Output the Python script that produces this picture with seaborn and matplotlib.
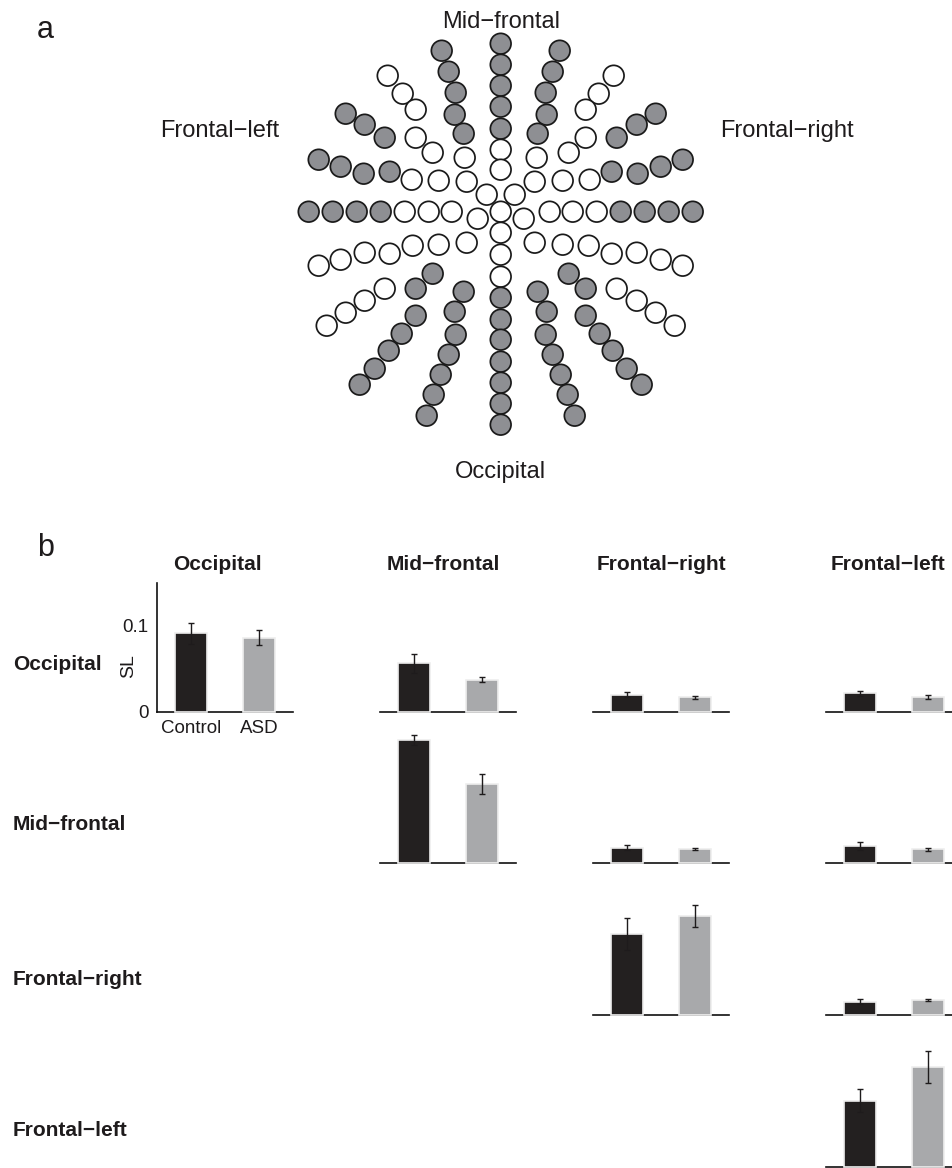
import matplotlib
matplotlib.use("Agg")
import matplotlib.pyplot as plt
import seaborn as sns
import numpy as np
import pandas as pd

regions = ["Occipital", "Mid\u2212frontal", "Frontal\u2212right", "Frontal\u2212left"]
groups = ["Control", "ASD"]

# upper triangle of region x region, read row by row
pair_row = [0, 0, 0, 0, 1, 1, 1, 2, 2, 3]
pair_col = [0, 1, 2, 3, 1, 2, 3, 2, 3, 3]
control_sl = [0.091, 0.0565, 0.020, 0.0212, 0.1434, 0.018, 0.0202, 0.0942, 0.0154, 0.0769]
control_err = [0.0127, 0.011, 0.0024, 0.0026, 0.0056, 0.003, 0.0046, 0.0185, 0.003, 0.0135]
asd_sl = [0.086, 0.0374, 0.0166, 0.0173, 0.0923, 0.0165, 0.0162, 0.1153, 0.0173, 0.1161]
asd_err = [0.009, 0.0033, 0.0015, 0.0025, 0.0112, 0.0015, 0.0019, 0.0125, 0.0013, 0.0183]

# 128-channel net, left half read off the layout (x right, y up, Cz at 0,0)
# 1 = sensor in one of the four regions (grey), 0 = not used
left_x = [-59, -52, -45, -46, -37, -155, -136, -116, -182, -160, -137, -111,
          -192, -168, -144, -120, -85, -68, -85, -99, -112, -126, -141,
          -37, -46, -45, -52, -60, -67, -74,
          -113, -98, -85, -85, -68, -36, -34, -89, -62, -96, -72, -49, -14, -23,
          -182, -160, -136, -111, -88, -62, -34, -174, -155, -136, -116]
left_y = [161, 140, 119, 97, 78, 98, 87, 74, 52, 45, 38, 40,
          0, 0, 0, 0, -77, -62, -104, -122, -139, -157, -173,
          -80, -100, -123, -143, -163, -183, -204,
          136, 118, 102, 74, 59, 54, 30, 32, 31, 0, 0, 0, 17, -7,
          -54, -48, -41, -42, -34, -33, -31, -114, -101, -89, -77]
left_used = [1] * 30 + [0] * 25
mid_y = [168, 147, 126, 105, 83, 62, 42, 0, -21, -43, -65,
         -86, -108, -128, -150, -171, -192, -213]
mid_used = [1] * 5 + [0] * 6 + [1] * 7

W, H = 953, 1168
fig = plt.figure(figsize=(W / 100, H / 100), dpi=100)
sns.set_style("white")
plt.rcParams["font.family"] = ["Liberation Sans", "DejaVu Sans"]
txt_color = "#1e1b1c"


def fx(px):
    return px / W


def fy(py):
    return 1 - py / H


# ---- panel a: sensor layout ----
cx, cy = 500.7, 211.7
ax_a = fig.add_axes([0, fy(480), 1, 480 / H])
sensors = pd.DataFrame({
    "x": left_x + [-v for v in left_x] + [0] * len(mid_y),
    "y": left_y + left_y + mid_y,
    "used": left_used + left_used + mid_used,
})
sns.scatterplot(data=sensors, x="x", y="y", hue="used",
                palette={1: "#8e8f93", 0: "white"}, s=222,
                edgecolor="#1a1a1a", linewidth=1.25, legend=False, ax=ax_a)
ax_a.set_xlim(-cx, W - cx)
ax_a.set_ylim(cy - 480, cy)
ax_a.set_aspect("equal")
ax_a.axis("off")

fig.text(fx(501), fy(28), regions[1], ha="center", va="baseline", fontsize=17, color=txt_color)
fig.text(fx(220), fy(137), regions[3], ha="center", va="baseline", fontsize=17, color=txt_color)
fig.text(fx(787), fy(137), regions[2], ha="center", va="baseline", fontsize=17, color=txt_color)
fig.text(fx(500), fy(478), regions[0], ha="center", va="baseline", fontsize=17, color=txt_color)
fig.text(fx(37), fy(37.5), "a", ha="left", va="baseline", fontsize=22, color=txt_color)
fig.text(fx(37), fy(556), "b", ha="left", va="baseline", fontsize=22, color=txt_color)

# ---- panel b: bar grid ----
col_left = [157, 380, 593, 826]
row_base = [711.7, 863.3, 1015, 1166.7]
ax_w, ax_h = 136, 129
bar_colors = {"Control": "#231f20", "ASD": "#a7a9ac"}

for k in range(len(pair_row)):
    r, c = pair_row[k], pair_col[k]
    ax = fig.add_axes([fx(col_left[c]), fy(row_base[r]), ax_w / W, ax_h / H])
    df = pd.DataFrame({"group": groups, "SL": [control_sl[k], asd_sl[k]]})
    sns.barplot(data=df, x="group", y="SL", hue="group", palette=bar_colors,
                width=0.47, edgecolor="#eeeeee", linewidth=1.2, errorbar=None,
                legend=False, ax=ax, zorder=3, clip_on=False)
    ax.errorbar([0, 1], [control_sl[k], asd_sl[k]], yerr=[control_err[k], asd_err[k]],
                fmt="none", ecolor=txt_color, elinewidth=1, capsize=2, capthick=1, zorder=4)
    ax.set_xlim(-0.5, 1.5)
    ax.set_ylim(0, 0.15)
    sns.despine(ax=ax, top=True, right=True, left=(k != 0))
    ax.spines["bottom"].set_color("#111111")
    ax.spines["bottom"].set_linewidth(1.2)
    ax.set_xlabel("")
    ax.set_ylabel("")
    if k == 0:
        ax.spines["left"].set_color("#111111")
        ax.spines["left"].set_linewidth(1.2)
        ax.set_yticks([0, 0.1])
        ax.set_yticklabels(["0", "0.1"])
        ax.tick_params(direction="in", length=4, width=1, labelsize=13.5,
                       colors="#111111", labelcolor=txt_color, pad=6)
        ax.set_xticks([0, 1])
        ax.set_xticklabels(groups)
        ax.text((129 - 157) / ax_w, (711.7 - 666) / ax_h, "SL", rotation=90,
                ha="center", va="center", fontsize=14, color=txt_color,
                transform=ax.transAxes)
    else:
        ax.set_xticks([])
        ax.set_yticks([])

title_x = [217.5, 443.7, 661.7, 888.3]
for c in range(4):
    fig.text(fx(title_x[c]), fy(569.5), regions[c], ha="center", va="baseline",
             fontsize=15, fontweight="bold", color=txt_color)

label_base = [670.5, 830, 985, 1136]
for r in range(4):
    fig.text(fx(13), fy(label_base[r]), regions[r], ha="left", va="baseline",
             fontsize=15, fontweight="bold", color=txt_color)

fig.savefig("out.png", dpi=100, facecolor="white")
